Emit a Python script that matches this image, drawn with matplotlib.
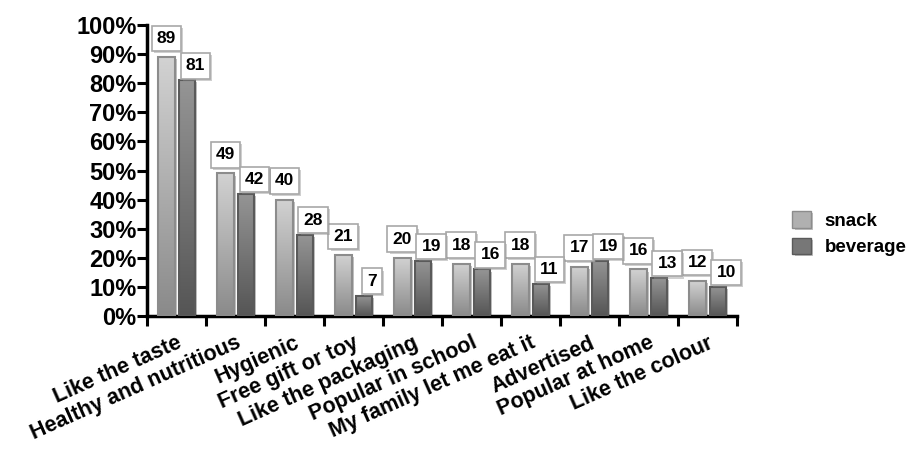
import matplotlib
matplotlib.use("Agg")
import matplotlib.pyplot as plt
import matplotlib.patheffects as pe
from matplotlib.colors import LinearSegmentedColormap
from matplotlib.patches import Patch
from matplotlib.ticker import FuncFormatter
import numpy as np

plt.rcParams['font.family'] = ['Liberation Sans', 'DejaVu Sans']
plt.rcParams['font.weight'] = 'bold'

# Reasons for choosing, % of respondents
reasons = ['Like the taste', 'Healthy and nutritious', 'Hygienic', 'Free gift or toy',
           'Like the packaging', 'Popular in school', 'My family let me eat it',
           'Advertised', 'Popular at home', 'Like the colour']
snack = [89, 49, 40, 21, 20, 18, 18, 17, 16, 12]
beverage = [81, 42, 28, 7, 19, 16, 11, 19, 13, 10]

fig = plt.figure(figsize=(9.13, 4.55), dpi=100)
ax = fig.add_axes([0.161, 0.3055, 0.646, 0.6395])

x = np.arange(len(reasons))
bw = 0.28
shadow = [pe.SimplePatchShadow(offset=(1.5, -1.5), shadow_rgbFace='#777777', alpha=0.45), pe.Normal()]

series = [
    (snack, 0.19, '#8a8a8a', '#d2d2d2', '#8c8c8c', (0, 8)),
    (beverage, 0.54, '#555555', '#959595', '#5a5a5a', (6, 5)),
]

grad = np.linspace(0, 1, 128).reshape(-1, 1)
for vals, off, bot, top, edge, lbl_off in series:
    cmap = LinearSegmentedColormap.from_list('g', [bot, top])
    bars = ax.bar(x + off, vals, width=bw, align='edge', color=bot, edgecolor='none',
                  zorder=2)
    for b in bars:
        b.set_path_effects(shadow)
        im = ax.imshow(grad, extent=[b.get_x(), b.get_x() + b.get_width(), 0, b.get_height()],
                       origin='lower', aspect='auto', cmap=cmap, zorder=3, interpolation='bilinear')
        im.set_clip_path(b)
    ax.bar(x + off, vals, width=bw, align='edge', facecolor='none', edgecolor=edge,
           linewidth=1.5, zorder=4)
    for xi, v in zip(x, vals):
        t = ax.annotate(str(v), xy=(xi + off + bw / 2, v), xytext=lbl_off,
                        textcoords='offset points', ha='center', va='bottom',
                        fontsize=12.5, fontweight='bold', zorder=6,
                        bbox=dict(boxstyle='square,pad=0.3', fc='white', ec='#a8a8a8', lw=1.2))
        t.get_bbox_patch().set_path_effects(
            [pe.SimplePatchShadow(offset=(1.5, -1.5), shadow_rgbFace='#888888', alpha=0.4), pe.Normal()])

ax.set_xlim(0, len(reasons))
ax.set_ylim(0, 100)
ax.set_yticks(np.arange(0, 101, 10))
ax.yaxis.set_major_formatter(FuncFormatter(lambda v, _: f'{int(v)}%'))

# group boundaries carry the tick marks, labels sit under group centres
ax.set_xticks(np.arange(len(reasons) + 1))
ax.set_xticklabels([])
ax.set_xticks(x + 0.5, minor=True)
ax.set_xticklabels(reasons, minor=True, rotation=24, ha='right', rotation_mode='anchor',
                   fontsize=15.5, fontweight='bold')
ax.tick_params(axis='x', which='minor', length=0, pad=12)
ax.tick_params(axis='x', which='major', length=7, width=2.2, direction='out')
ax.tick_params(axis='y', length=7, width=2.2, labelsize=17, pad=0.5)
for lab in ax.get_yticklabels():
    lab.set_fontweight('bold')

for s in ['top', 'right']:
    ax.spines[s].set_visible(False)
for s in ['left', 'bottom']:
    ax.spines[s].set_linewidth(2.5)

handles = [Patch(facecolor='#b0b0b0', edgecolor='#8c8c8c', label='snack'),
           Patch(facecolor='#777777', edgecolor='#5a5a5a', label='beverage')]
leg = fig.legend(handles=handles, loc='center left', bbox_to_anchor=(0.868, 0.486),
                 frameon=False, borderpad=0, borderaxespad=0, handlelength=1.0,
                 handleheight=1.0, handletextpad=0.7, labelspacing=0.4,
                 prop={'weight': 'bold', 'size': 13.5})
for h in leg.legend_handles:
    h.set_path_effects(shadow)

fig.savefig('out.png', dpi=100)
